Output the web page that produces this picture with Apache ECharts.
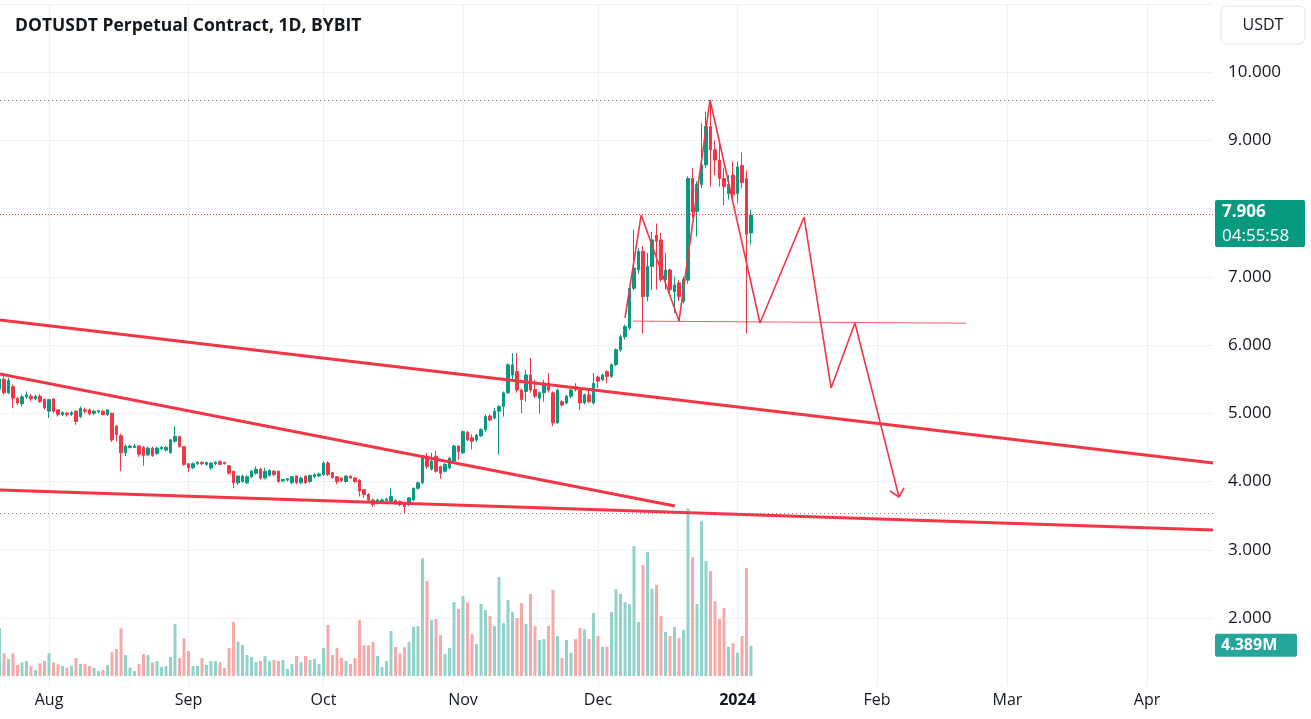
<!DOCTYPE html>
<html><head><meta charset="utf-8">
<script src="https://cdn.jsdelivr.net/npm/echarts@6/dist/echarts.min.js"></script>
<style>html,body{margin:0;padding:0;background:#fff}#c{width:1311px;height:719px}</style>
</head><body><div id="c"></div>
<script>
// Day index 0 = 2023-08-01; first candle = 2023-07-21 (day -11), last = 2024-01-04 (day 156)
const firstDay = -11;
// [open, high, low, close]
const candles = [
[5.35,5.55,5.30,5.50],[5.50,5.54,5.27,5.30],[5.30,5.52,5.28,5.48],[5.39,5.42,5.08,5.22],[5.22,5.24,5.12,5.15],
[5.14,5.27,5.10,5.24],[5.24,5.32,5.21,5.27],[5.25,5.28,5.18,5.21],[5.21,5.27,5.19,5.25],[5.25,5.28,5.15,5.17],
[5.20,5.22,5.05,5.08],
[5.03,5.21,4.93,5.20],[5.21,5.22,5.00,5.03],[5.05,5.06,4.95,4.98],[4.98,5.03,4.96,5.01],[5.00,5.02,4.95,4.98],
[4.98,5.03,4.96,5.01],[5.03,5.04,4.83,4.88],[4.95,5.10,4.93,5.07],[5.05,5.08,5.00,5.03],[5.05,5.07,4.97,4.99],
[5.00,5.05,4.97,5.03],[5.02,5.05,5.00,5.04],[5.03,5.05,4.97,4.98],[4.98,5.06,4.96,5.05],[5.00,5.01,4.58,4.61],
[4.81,4.83,4.59,4.69],[4.67,4.70,4.15,4.42],[4.42,4.54,4.37,4.52],[4.50,4.54,4.48,4.52],[4.50,4.55,4.49,4.52],
[4.52,4.53,4.36,4.40],[4.50,4.52,4.23,4.38],[4.39,4.51,4.37,4.49],[4.49,4.51,4.36,4.38],[4.41,4.51,4.39,4.49],
[4.48,4.52,4.46,4.50],[4.46,4.52,4.44,4.50],[4.42,4.62,4.41,4.61],[4.59,4.81,4.57,4.66],[4.66,4.67,4.50,4.51],
[4.51,4.52,4.23,4.25],[4.26,4.27,4.14,4.20],[4.20,4.28,4.18,4.26],[4.26,4.30,4.24,4.28],[4.28,4.30,4.24,4.26],
[4.25,4.29,4.23,4.28],[4.20,4.28,4.17,4.27],[4.26,4.30,4.24,4.28],[4.29,4.31,4.24,4.25],[4.28,4.29,4.25,4.26],
[4.23,4.24,4.10,4.12],[4.15,4.16,3.90,3.98],[3.98,4.09,3.95,4.08],[4.00,4.10,3.98,4.08],[3.98,4.09,3.96,4.07],
[4.07,4.17,4.05,4.15],[4.12,4.22,4.10,4.18],[4.18,4.20,4.03,4.05],[4.05,4.20,4.03,4.15],[4.09,4.18,4.07,4.16],
[4.15,4.17,4.08,4.10],[4.15,4.16,3.98,4.00],[4.01,4.04,3.99,4.03],[4.02,4.05,4.00,4.04],[3.98,4.08,3.96,4.07],
[4.08,4.09,3.96,3.98],[3.98,4.07,3.96,4.05],[4.08,4.09,3.96,3.98],[4.00,4.10,3.98,4.09],[4.07,4.12,4.05,4.10],
[4.08,4.13,4.06,4.11],[4.10,4.29,4.08,4.27],[4.27,4.30,4.08,4.10],[4.13,4.14,4.04,4.06],[4.07,4.08,3.96,4.00],
[4.05,4.06,3.99,4.01],[4.00,4.09,3.98,4.08],[4.08,4.09,4.04,4.05],[4.05,4.07,3.98,4.00],[4.02,4.03,3.78,3.86],
[3.88,3.89,3.76,3.81],[3.81,3.83,3.71,3.73],[3.73,3.75,3.63,3.66],[3.68,3.75,3.66,3.73],[3.71,3.75,3.69,3.73],
[3.72,3.76,3.70,3.74],[3.71,3.90,3.69,3.78],[3.72,3.74,3.66,3.68],[3.71,3.72,3.64,3.66],[3.68,3.69,3.54,3.63],
[3.66,3.77,3.64,3.76],[3.73,3.91,3.71,3.90],[3.90,4.00,3.88,3.98],[3.98,4.39,3.96,4.37],[4.37,4.42,4.18,4.22],
[4.18,4.42,4.16,4.30],[4.37,4.45,4.13,4.15],[4.22,4.23,4.04,4.12],[4.15,4.27,4.13,4.25],[4.20,4.36,4.18,4.34],
[4.30,4.54,4.28,4.52],[4.52,4.53,4.32,4.44],[4.42,4.75,4.40,4.73],[4.72,4.74,4.59,4.61],[4.64,4.69,4.47,4.59],
[4.61,4.70,4.58,4.68],[4.67,4.78,4.65,4.76],[4.76,4.98,4.73,4.95],[4.96,4.98,4.88,4.90],[4.93,5.08,4.91,5.03],
[5.03,5.12,4.39,5.10],[5.10,5.32,4.95,5.30],[5.30,5.73,5.28,5.71],[5.56,5.88,5.49,5.71],[5.61,5.88,5.30,5.34],
[5.34,5.36,5.00,5.20],[5.32,5.64,5.17,5.56],[5.56,5.81,5.30,5.34],[5.35,5.49,5.22,5.25],[5.22,5.32,5.00,5.30],
[5.30,5.49,5.17,5.44],[5.44,5.59,5.30,5.34],[5.30,5.32,4.81,4.86],[4.86,5.36,4.84,5.34],[5.17,5.19,5.10,5.12],
[5.15,5.27,5.13,5.25],[5.25,5.36,5.22,5.34],[5.39,5.44,5.32,5.34],[5.34,5.36,5.05,5.15],[5.15,5.29,5.13,5.27],
[5.27,5.37,5.15,5.17],[5.15,5.59,5.13,5.44],[5.53,5.55,5.37,5.47],[5.49,5.58,5.47,5.56],[5.61,5.63,5.44,5.54],
[5.54,5.73,5.52,5.71],[5.71,5.95,5.69,5.93],[5.93,6.15,5.90,6.12],[6.12,6.30,6.08,6.27],[6.25,6.85,6.22,6.83],
[6.83,7.69,6.80,7.13],[7.10,7.42,7.05,7.37],[7.37,7.45,6.17,6.71],[6.71,7.35,6.64,7.15],[7.15,7.66,6.81,7.54],
[7.61,7.78,6.81,7.52],[7.54,7.64,6.93,6.96],[6.96,7.35,6.81,7.10],[7.10,7.12,6.76,6.81],[6.78,7.00,6.47,6.88],
[6.91,6.95,6.64,6.71],[6.64,7.00,6.61,6.96],[6.95,8.47,6.90,8.44],[8.44,8.59,7.86,7.95],[7.96,8.40,7.59,8.35],
[8.35,9.25,8.30,8.64],[8.64,9.42,8.60,9.20],[9.20,9.59,8.32,8.86],[8.86,9.00,8.49,8.71],[8.71,9.00,8.32,8.44],
[8.44,8.59,8.05,8.32],[8.22,8.49,8.13,8.35],[8.49,8.69,8.08,8.20],[8.22,8.69,8.08,8.61],[8.63,8.82,8.30,8.38],
[8.44,8.55,6.17,7.62],[7.64,7.98,7.47,7.906]
];
// volume in millions
const volumes = [
6.90,3.28,2.46,3.28,1.59,1.98,2.17,1.45,0.87,1.83,2.17,
3.28,1.98,1.69,1.45,1.21,1.45,2.61,1.74,1.74,1.45,
1.21,0.72,0.87,1.59,3.43,3.91,6.90,3.04,1.21,0.72,
1.74,3.19,3.04,1.98,2.17,1.30,1.45,2.75,7.53,2.61,
5.45,3.62,1.45,1.45,2.61,1.59,2.17,2.17,1.98,1.16,
4.05,7.82,4.97,4.49,3.04,2.75,2.03,2.17,2.90,2.17,
2.32,2.17,2.32,1.01,1.74,2.90,2.03,2.90,2.32,2.46,
1.74,4.05,7.39,3.04,4.05,2.61,2.17,1.74,2.61,8.11,
4.44,4.44,4.92,2.90,1.30,2.17,6.52,4.20,3.28,4.15,
4.92,7.14,7.24,17.04,13.76,8.11,8.25,5.94,3.19,4.05,
10.72,9.70,11.58,10.67,6.08,4.63,10.43,9.56,8.69,7.24,
14.34,7.67,11.01,9.27,8.40,10.57,7.53,11.87,7.24,5.21,
5.36,7.24,12.45,5.79,2.61,5.21,3.38,5.36,6.95,6.76,
5.36,9.12,5.79,4.25,4.25,9.27,12.60,11.87,10.72,10.43,
18.83,7.82,16.07,17.96,12.65,13.18,8.69,6.37,5.79,7.10,
5.50,6.66,24.28,17.18,10.43,22.45,16.65,15.21,10.86,8.25,
9.85,4.25,4.78,3.38,5.79,15.64,4.389
];
const monthTicks = [0,31,61,92,122,153,184,213,244];
const monthLabels = ['Aug','Sep','Oct','Nov','Dec','2024','Feb','Mar','Apr'];
// drawn annotations, [day, price]
const trendUpper = [[-10.9,6.366],[258.7,4.271]];
const trendMid = [[-10.9,5.575],[139.1,3.641]];
const trendLower = [[-10.9,3.875],[258.7,3.289]];
const zigzag = [[128.0,6.396],[131.6,7.905],[140.0,6.352],[146.9,9.59],[158.0,6.322],[167.8,7.875],[173.8,5.37],[179.1,6.322],[188.9,3.773]];
const arrowHead = [[186.9,3.861],[188.9,3.773],[190.0,3.905]];
const neckLine = [[129.8,6.35],[203.8,6.32]];
const countdown = '04:55:58';

const UP='#089981', DOWN='#f23645', VUP='#92d2cc', VDOWN='#f7a9a7', RED='#f23645';
const candleData = candles.map((c,i)=>[firstDay+i, c[0], c[3], c[2], c[1]]);
const volData = volumes.map((v,i)=>({value:[firstDay+i, v], itemStyle:{color: candles[i][3]>=candles[i][0]?VUP:VDOWN}}));
const maxHigh = Math.max(...candles.map(c=>c[1]));
const minLow = Math.min(...candles.map(c=>c[2]));
const lastClose = candles[candles.length-1][3];
const xMin=-10.89, xMax=258.67;
const FONT='Open Sans';

const chart = echarts.init(document.getElementById('c'), null, {renderer:'canvas'});
const option = {
  animation:false,
  backgroundColor:'#ffffff',
  textStyle:{fontFamily:FONT},
  title:{text:'DOTUSDT Perpetual Contract, 1D, BYBIT', left:10, top:12,
    textStyle:{fontSize:17.5, fontWeight:'bold', color:'#131722', fontFamily:FONT}},
  grid:[
    {left:0, right:98, top:3.75, height:682.5},
    {left:0, right:98, top:476, height:200}
  ],
  xAxis:[
    {type:'value', gridIndex:0, min:xMin, max:xMax,
      axisLine:{show:false}, axisTick:{show:false, customValues:monthTicks}, axisLabel:{show:false, customValues:monthTicks},
      splitLine:{show:true, lineStyle:{color:'#eef0f4', width:1}}},
    {type:'value', gridIndex:1, min:xMin, max:xMax,
      axisLine:{show:false}, axisTick:{show:false, customValues:monthTicks}, splitLine:{show:false},
      axisLabel:{show:true, customValues:monthTicks, margin:16, color:'#131722', fontSize:16, fontFamily:FONT,
        formatter:v=>{const i=monthTicks.indexOf(Math.round(v)); const t=i>=0?monthLabels[i]:''; return t==='2024'?'{b|2024}':t;},
        rich:{b:{fontWeight:'bold', fontSize:16, color:'#131722', fontFamily:FONT}}}}
  ],
  yAxis:[
    {type:'value', gridIndex:0, position:'right', min:1, max:11, interval:1,
      axisLine:{show:false}, axisTick:{show:false},
      axisLabel:{margin:15, color:'#131722', fontSize:17, fontFamily:FONT, align:'left',
        formatter:v=>(v<=1.5||v>=10.5)?'':v.toFixed(3)},
      splitLine:{show:true, showMinLine:false, lineStyle:{color:'#eef0f4', width:1}}},
    {type:'value', gridIndex:1, min:0, max:28.96, show:false, splitLine:{show:false}}
  ],
  series:[
    {type:'bar', name:'Volume', xAxisIndex:1, yAxisIndex:1, data:volData, barWidth:3, z:1},
    {type:'candlestick', name:'DOTUSDT', xAxisIndex:0, yAxisIndex:0, data:candleData,
      encode:{x:0, y:[1,2,3,4]}, barWidth:3, z:3,
      itemStyle:{color:UP, color0:DOWN, borderColor:UP, borderColor0:DOWN, borderWidth:1},
      markLine:{silent:true, symbol:'none', label:{show:false}, animation:false,
        data:[
          {yAxis:maxHigh, lineStyle:{color:'#787b86', type:[1,3], width:1}},
          {yAxis:minLow, lineStyle:{color:'#787b86', type:[1,3], width:1}},
          {yAxis:lastClose, lineStyle:{color:RED, type:[1,2], width:1}}
        ]}},
    {type:'line', xAxisIndex:0, yAxisIndex:0, data:trendUpper, symbol:'none', lineStyle:{color:RED, width:3}, z:4},
    {type:'line', xAxisIndex:0, yAxisIndex:0, data:trendMid, symbol:'none', lineStyle:{color:RED, width:3}, z:4},
    {type:'line', xAxisIndex:0, yAxisIndex:0, data:trendLower, symbol:'none', lineStyle:{color:RED, width:3}, z:4},
    {type:'line', xAxisIndex:0, yAxisIndex:0, data:zigzag, symbol:'none', lineStyle:{color:RED, width:1.6}, z:4},
    {type:'line', xAxisIndex:0, yAxisIndex:0, data:arrowHead, symbol:'none', lineStyle:{color:RED, width:1.6}, z:4},
    {type:'line', xAxisIndex:0, yAxisIndex:0, data:neckLine, symbol:'none', lineStyle:{color:RED, width:1, opacity:0.8}, z:4}
  ]
};
chart.setOption(option);

const py = chart.convertToPixel({yAxisIndex:0}, lastClose);
const vy = chart.convertToPixel({yAxisIndex:1}, volumes[volumes.length-1]);
chart.setOption({graphic:[
  {type:'rect', z:100, shape:{x:1221, y:6, width:84, height:38, r:6}, style:{fill:'#fff', stroke:'#e0e3eb', lineWidth:1}},
  {type:'text', z:101, x:1263, y:25, style:{text:'USDT', fill:'#131722', font:'16px "Open Sans"', align:'center', verticalAlign:'middle'}},
  {type:'rect', z:100, shape:{x:1215, y:py-15, width:90, height:47, r:2}, style:{fill:UP}},
  {type:'text', z:101, x:1222, y:py-3, style:{text:lastClose.toFixed(3), fill:'#fff', font:'bold 17px "Open Sans"', verticalAlign:'middle'}},
  {type:'text', z:101, x:1222, y:py+21, style:{text:countdown, fill:'#fff', font:'17px "Open Sans"', verticalAlign:'middle'}},
  {type:'rect', z:100, shape:{x:1215, y:vy-12, width:82, height:23, r:2}, style:{fill:'#26a69a'}},
  {type:'text', z:101, x:1221, y:vy, style:{text:volumes[volumes.length-1].toFixed(3)+'M', fill:'#fff', font:'bold 16px "Open Sans"', verticalAlign:'middle'}}
]});
</script></body></html>
